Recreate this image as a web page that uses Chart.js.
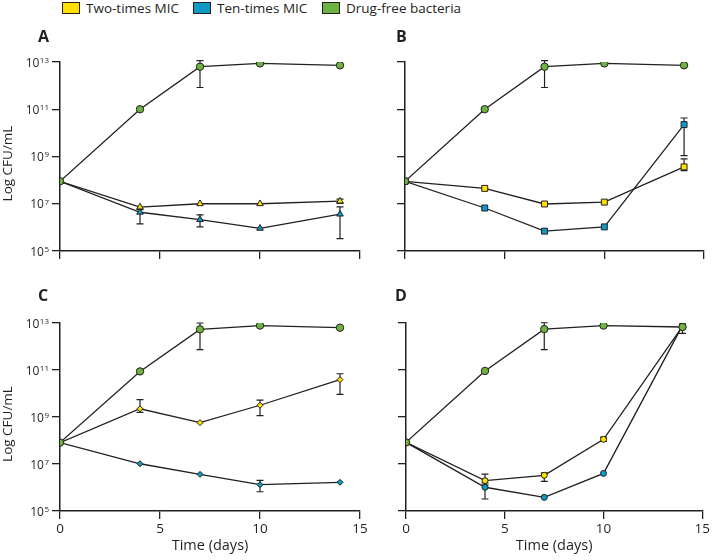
<!DOCTYPE html>
<html>
<head>
<meta charset="utf-8">
<script src="https://cdn.jsdelivr.net/npm/chart.js@4.4.1/dist/chart.umd.min.js"></script>
<style>
  html, body { margin: 0; padding: 0; background: #fff; }
  #wrap { position: relative; width: 712px; height: 560px; overflow: hidden; font-family: "Open Sans", sans-serif; color: #231f20; }
  #wrap canvas { position: absolute; }
  .lg { position: absolute; top: 0; left: 0; height: 16px; display: flex; align-items: center; font-size: 13.5px; }
  .lg__item { position: absolute; display: flex; align-items: center; white-space: nowrap; }
  .lg__box { width: 16px; height: 10px; border: 1px solid #231f20; margin-right: 6px; }
</style>
</head>
<body>
<div id="wrap">
  <div class="lg" id="legend"></div>
  <canvas id="pA" width="375" height="280" style="left:0;top:0"></canvas>
  <canvas id="pB" width="352" height="280" style="left:360px;top:0"></canvas>
  <canvas id="pC" width="375" height="280" style="left:0;top:280px"></canvas>
  <canvas id="pD" width="352" height="280" style="left:360px;top:280px"></canvas>
</div>
<script>
// ------- Datos (log10 CFU/mL) -------
const days = [0, 4, 7, 10, 14];
const xTicks = [0, 5, 10, 15];
const yTicks = [5, 7, 9, 11, 13];          // exponentes: 10^5 ... 10^13
const seriesNames = ['Two-times MIC', 'Ten-times MIC', 'Drug-free bacteria'];
const seriesColors = ['#ffe100', '#0f9ac6', '#6cb33f'];
const panelLetters = ['A', 'B', 'C', 'D'];

// A
const aTwo = [7.95, 6.86, 7.0, 7.0, 7.11];
const aTen = [7.95, 6.64, 6.33, 5.96, 6.56];
const aFree = [7.95, 11.0, 12.8, 12.94, 12.86];
const aTwoErr = [null, null, null, null, [7.02, 7.2]];
const aTenErr = [null, [6.15, 6.75], [6.02, 6.53], null, [5.52, 6.87]];
const aFreeErr = [null, null, [11.92, 13.06], null, null];

// B
const bTwo = [7.95, 7.65, 6.99, 7.07, 8.56];
const bTen = [7.95, 6.82, 5.84, 6.02, 10.35];
const bFree = [7.95, 11.0, 12.8, 12.94, 12.86];
const bTwoErr = [null, null, null, null, [8.4, 8.9]];
const bTenErr = [null, null, null, null, [9.04, 10.63]];
const bFreeErr = [null, null, [11.92, 13.06], null, null];

// C
const cTwo = [7.91, 9.35, 8.76, 9.5, 10.59];
const cTen = [7.91, 7.01, 6.56, 6.12, 6.22];
const cFree = [7.91, 10.94, 12.73, 12.89, 12.8];
const cTwoErr = [null, [9.2, 9.74], null, [9.06, 9.72], [9.96, 10.84]];
const cTenErr = [null, null, null, [5.82, 6.3], null];
const cFreeErr = [null, null, [11.87, 13.0], null, null];

// D
const dTwo = [7.92, 6.29, 6.52, 8.05, 12.86];
const dTen = [7.92, 6.01, 5.58, 6.6, 12.9];
const dFree = [7.92, 10.96, 12.74, 12.89, 12.83];
const dTwoErr = [null, [6.1, 6.57], [6.26, 6.62], [7.96, 8.14], [12.56, 12.95]];
const dTenErr = [null, [5.51, 6.2], null, null, null];
const dFreeErr = [null, null, [11.87, 13.01], null, null];

(function () {
    const INK = '#231f20';
    const FONT = '"Open Sans", sans-serif';

    // ------- Leyenda HTML -------
    const legendX = [62, 193, 322];
    document.getElementById('legend').innerHTML = seriesNames.map((n, i) =>
        `<span class="lg__item" style="left:${legendX[i]}px"><span class="lg__box" style="background:${seriesColors[i]}"></span>${n}</span>`
    ).join('');

    // ------- Plugins -------
    const errorBars = {
        id: 'errorBars',
        beforeDatasetsDraw(chart) {
            const { ctx, scales: { x, y } } = chart;
            ctx.save();
            ctx.strokeStyle = INK;
            ctx.lineWidth = 1.2;
            chart.data.datasets.forEach(ds => {
                (ds.errors || []).forEach((e, i) => {
                    if (!e) return;
                    const px = x.getPixelForValue(ds.data[i].x);
                    const lo = y.getPixelForValue(e[0]);
                    const hi = y.getPixelForValue(e[1]);
                    ctx.beginPath();
                    ctx.moveTo(px, lo); ctx.lineTo(px, hi);
                    ctx.moveTo(px - 3.5, lo); ctx.lineTo(px + 3.5, lo);
                    ctx.moveTo(px - 3.5, hi); ctx.lineTo(px + 3.5, hi);
                    ctx.stroke();
                });
            });
            ctx.restore();
        }
    };

    function pts(vals) { return days.map((d, i) => ({ x: d, y: vals[i] })); }

    function dataset(label, vals, errs, color, style, r) {
        return {
            label, data: pts(vals), errors: errs,
            borderColor: INK, borderWidth: 1.3,
            pointStyle: style, pointRadius: r,
            pointBackgroundColor: color, pointBorderColor: INK, pointBorderWidth: 1
        };
    }

    function makePanel(id, p) {
        const extra = {
            id: 'panelText',
            afterDraw(chart) {
                const { ctx, scales: { y } } = chart;
                const area = chart.chartArea;
                ctx.save();
                ctx.fillStyle = INK;
                // letra del panel
                ctx.font = `bold 16px ${FONT}`;
                ctx.textAlign = 'left';
                ctx.textBaseline = 'alphabetic';
                ctx.fillText(p.letter, p.letterX, p.letterY);
                if (p.yLabels) {
                    // etiquetas 10^n
                    const xEnd = area.left - 11;
                    y.ticks.forEach(t => {
                        const py = y.getPixelForValue(t.value);
                        const exp = String(t.value);
                        ctx.font = `8px ${FONT}`;
                        ctx.textAlign = 'right';
                        const w = ctx.measureText(exp).width;
                        ctx.fillText(exp, xEnd, py + 0.8);
                        ctx.font = `12px ${FONT}`;
                        ctx.fillText('10', xEnd - w - 0.5, py + 4.6);
                    });
                    // título del eje (un poco por debajo del centro, como el original)
                    ctx.translate(8, (area.top + area.bottom) / 2 + 7);
                    ctx.rotate(-Math.PI / 2);
                    ctx.font = `13.5px ${FONT}`;
                    ctx.textAlign = 'center';
                    ctx.textBaseline = 'middle';
                    ctx.fillText('Log CFU/mL', 0, 0);
                }
                ctx.restore();
            }
        };

        return new Chart(document.getElementById(id), {
            type: 'line',
            data: {
                datasets: [
                    dataset(seriesNames[2], p.free, p.freeErr, seriesColors[2], 'circle', 3.7),
                    dataset(seriesNames[0], p.two, p.twoErr, seriesColors[0], p.style, p.r),
                    dataset(seriesNames[1], p.ten, p.tenErr, seriesColors[1], p.style, p.r)
                ]
            },
            options: {
                responsive: false,
                animation: false,
                devicePixelRatio: 1,
                layout: { padding: { top: p.padTop, right: p.padRight, bottom: 0, left: 0 } },
                plugins: { legend: { display: false }, tooltip: { enabled: false } },
                scales: {
                    x: {
                        type: 'linear', min: 0, max: 15,
                        afterBuildTicks: s => { s.ticks = xTicks.map(v => ({ value: v })); },
                        afterFit: s => { s.height = p.xHeight; },
                        ticks: { display: p.xLabels, color: INK, padding: 2, font: { family: FONT, size: 13.5 } },
                        grid: { drawOnChartArea: false, drawTicks: true, tickLength: 8, color: INK, lineWidth: 1.3 },
                        border: { display: true, color: INK, width: 1.5 },
                        title: {
                            display: p.xLabels, text: 'Time (days)', color: INK,
                            font: { family: FONT, size: 14.5 }, padding: { top: 0, bottom: 5 }
                        }
                    },
                    y: {
                        type: 'linear', min: 5, max: 13,
                        afterBuildTicks: s => { s.ticks = yTicks.map(v => ({ value: v })); },
                        afterFit: s => { s.width = p.yWidth; },
                        ticks: { display: false },
                        grid: { drawOnChartArea: false, drawTicks: true, tickLength: 8, color: INK, lineWidth: 1.3 },
                        border: { display: true, color: INK, width: 1.5 }
                    }
                }
            },
            plugins: [errorBars, extra]
        });
    }

    function init() {
        makePanel('pA', {
            letter: panelLetters[0], letterX: 38, letterY: 42,
            two: aTwo, ten: aTen, free: aFree, twoErr: aTwoErr, tenErr: aTenErr, freeErr: aFreeErr,
            style: 'triangle', r: 3.8,
            padTop: 62, padRight: 15, yWidth: 60, xHeight: 29, xLabels: false, yLabels: true
        });
        makePanel('pB', {
            letter: panelLetters[1], letterX: 36, letterY: 42,
            two: bTwo, ten: bTen, free: bFree, twoErr: bTwoErr, tenErr: bTenErr, freeErr: bFreeErr,
            style: 'rect', r: 4.2,
            padTop: 62, padRight: 8, yWidth: 45, xHeight: 29, xLabels: false, yLabels: false
        });
        makePanel('pC', {
            letter: panelLetters[2], letterX: 38, letterY: 21,
            two: cTwo, ten: cTen, free: cFree, twoErr: cTwoErr, tenErr: cTenErr, freeErr: cFreeErr,
            style: 'rectRot', r: 3,
            padTop: 43, padRight: 15, yWidth: 60, xHeight: 49, xLabels: true, yLabels: true
        });
        makePanel('pD', {
            letter: panelLetters[3], letterX: 35, letterY: 21,
            two: dTwo, ten: dTen, free: dFree, twoErr: dTwoErr, tenErr: dTenErr, freeErr: dFreeErr,
            style: 'circle', r: 3,
            padTop: 43, padRight: 8, yWidth: 46, xHeight: 49, xLabels: true, yLabels: false
        });
    }

    init();
})();
</script>
</body>
</html>
